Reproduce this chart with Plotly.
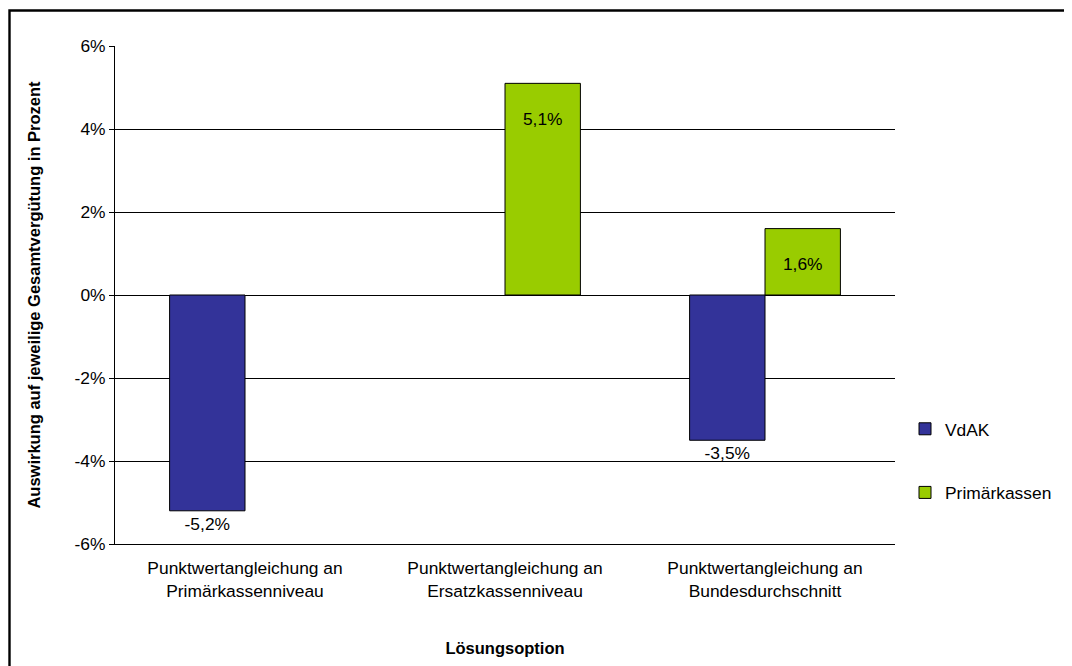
import plotly.graph_objects as go

categories = ["Punktwertangleichung an<br>Primärkassenniveau",
              "Punktwertangleichung an<br>Ersatzkassenniveau",
              "Punktwertangleichung an<br>Bundesdurchschnitt"]
vdak = [-5.2, None, -3.5]
primaer = [None, 5.1, 1.6]
tick_vals = [-6, -4, -2, 0, 2, 4, 6]
tick_text = ["-6%", "-4%", "-2%", "0%", "2%", "4%", "6%"]

def fmt(v):
    if v is None:
        return ""
    s = f"{v:.1f}".replace(".", ",") + "%"
    return ("\u00a0<br>" + s) if v > 0 else s

def pos(v):
    if v is None:
        return "none"
    return "inside" if v > 0 else "outside"

font_family = "Liberation Sans, Arial, sans-serif"
FS = 17.4

fig = go.Figure()
fig.add_trace(go.Bar(
    name="VdAK", x=categories, y=vdak,
    marker=dict(color="#333399", line=dict(color="#000000", width=1)),
    text=[fmt(v) for v in vdak], textposition=[pos(v) for v in vdak],
    insidetextanchor="end", textfont=dict(color="#000000", size=FS),
    outsidetextfont=dict(color="#000000", size=FS),
    cliponaxis=False, legendgroup="a",
))
fig.add_trace(go.Bar(
    name="Primärkassen", x=categories, y=primaer,
    marker=dict(color="#99CC00", line=dict(color="#000000", width=1)),
    text=[fmt(v) for v in primaer], textposition=[pos(v) for v in primaer],
    insidetextanchor="end", textfont=dict(color="#000000", size=FS),
    outsidetextfont=dict(color="#000000", size=FS),
    cliponaxis=False, legendgroup="b",
))

L, T, PW, PH = 107, 38, 780, 498
fig.update_layout(
    width=1064, height=658,
    margin=dict(l=L, r=1064 - L - PW, t=T, b=658 - T - PH),
    paper_bgcolor="white", plot_bgcolor="white",
    font=dict(family=font_family, size=FS, color="#000000"),
    barmode="group", bargap=0.42, bargroupgap=0,
    uniformtext=dict(mode=False),
    showlegend=True,
    legend=dict(x=(897 - L) / PW, y=0.1667, xanchor="left", yanchor="middle",
                tracegroupgap=38, font=dict(size=FS),
                bgcolor="rgba(0,0,0,0)", itemclick=False),
    xaxis=dict(showgrid=False, showline=True, linecolor="#000000", linewidth=1,
               ticks="", ticklabelstandoff=8, tickfont=dict(size=FS),
               title=dict(text="<b>Lösungsoption</b>", font=dict(size=16.5), standoff=42)),
    yaxis=dict(range=[-6, 6], tickvals=tick_vals, ticktext=tick_text,
               showgrid=True, gridcolor="#000000", gridwidth=1,
               showline=True, linecolor="#000000", linewidth=1,
               ticks="outside", ticklen=5, tickcolor="#000000",
               tickfont=dict(size=FS), zeroline=False,
               title=dict(text="<b>Auswirkung auf jeweilige Gesamtvergütung in Prozent</b>",
                          font=dict(size=16.5), standoff=29)),
    shapes=[dict(type="rect", xref="paper", yref="paper",
                 x0=(1.5 - L) / PW, x1=1.5, y0=-0.6, y1=1 + (T - 2.5) / PH,
                 line=dict(color="#000000", width=2.4), fillcolor="rgba(0,0,0,0)",
                 layer="above")],
)

fig.write_html("out.html")
